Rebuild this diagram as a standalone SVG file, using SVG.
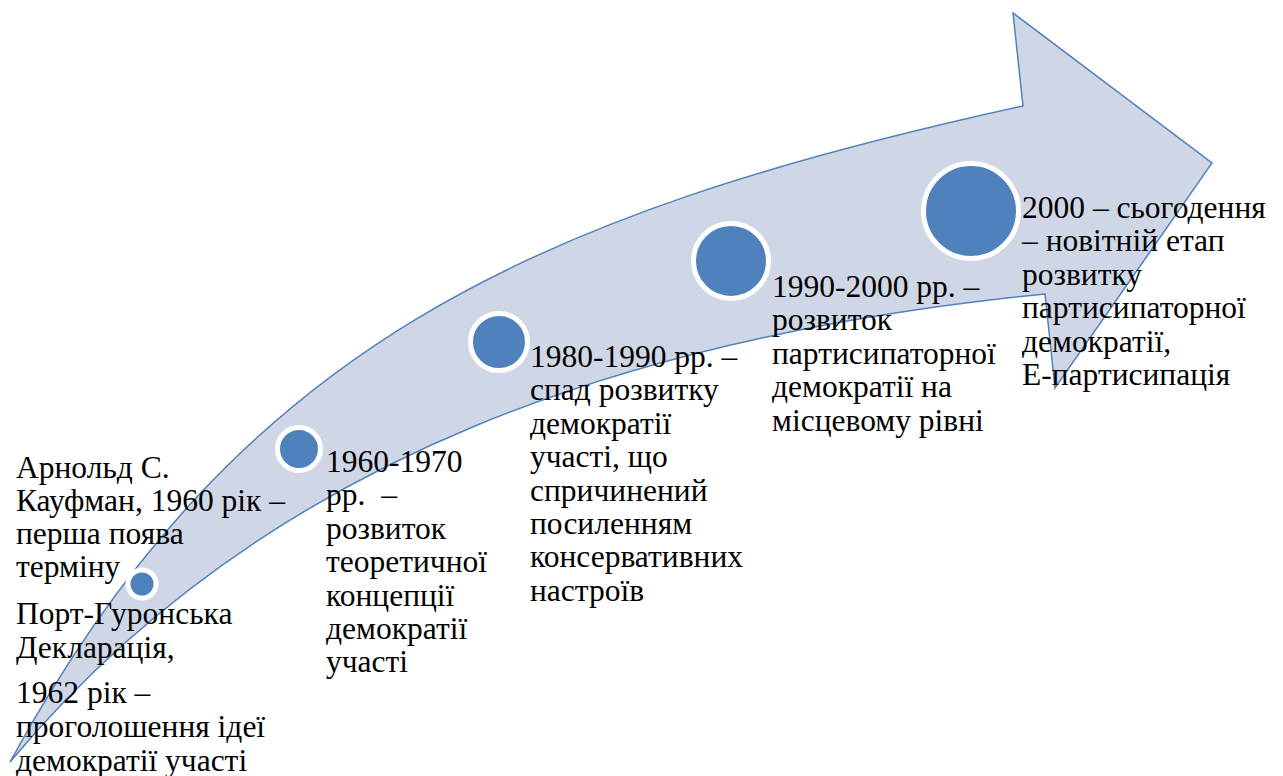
<svg xmlns="http://www.w3.org/2000/svg" width="1283" height="776" viewBox="0 0 1283 776">
<style>
  .arrow { fill: #CFD7E7; stroke: #4F81BD; stroke-width: 1.5; stroke-linejoin: miter; }
  .dot { fill: #4F81BD; stroke: #FFFFFF; stroke-width: 5; }
  text { font-family: "Liberation Serif", "Times New Roman", serif; font-size: 31.5px; fill: #000000; }
</style>
<g id="connectors">
  <path id="timeline-arrow" class="arrow" d="M10,762 C236.6,346.2 531,214 1023,106 L1013,13 L1212,163 L1055,388 L1045,294 C645,334 270,450 10,762 Z"/>
</g>
<g id="node1">
  <circle class="dot" cx="142" cy="584" r="14" stroke-width="4"/>
  <text x="16">
    <tspan x="16" y="478">Арнольд С.</tspan>
    <tspan x="16" y="511">Кауфман, 1960 рік –</tspan>
    <tspan x="16" y="544">перша поява</tspan>
    <tspan x="16" y="577">терміну</tspan>
    <tspan x="16" y="624">Порт-Гуронська</tspan>
    <tspan x="16" y="658">Декларація,</tspan>
    <tspan x="16" y="703">1962 рік –</tspan>
    <tspan x="16" y="737">проголошення ідеї</tspan>
    <tspan x="16" y="771">демократії участі</tspan>
  </text>
</g>
<g id="node2">
  <circle class="dot" cx="299" cy="449" r="21.5"/>
  <text xml:space="preserve">
    <tspan x="326" y="472">1960-1970</tspan>
    <tspan x="326" y="505.4">рр.  –</tspan>
    <tspan x="326" y="538.8">розвиток</tspan>
    <tspan x="326" y="572.2">теоретичної</tspan>
    <tspan x="326" y="605.6">концепції</tspan>
    <tspan x="326" y="639">демократії</tspan>
    <tspan x="326" y="672.4">участі</tspan>
  </text>
</g>
<g id="node3">
  <circle class="dot" cx="499" cy="342" r="28.5"/>
  <text>
    <tspan x="530" y="367">1980-1990 рр. –</tspan>
    <tspan x="530" y="400.4">спад розвитку</tspan>
    <tspan x="530" y="433.8">демократії</tspan>
    <tspan x="530" y="467.2">участі, що</tspan>
    <tspan x="530" y="500.6">спричинений</tspan>
    <tspan x="530" y="534">посиленням</tspan>
    <tspan x="530" y="567.4">консервативних</tspan>
    <tspan x="530" y="600.8">настроїв</tspan>
  </text>
</g>
<g id="node4">
  <circle class="dot" cx="731" cy="261" r="37.5"/>
  <text>
    <tspan x="772" y="297">1990-2000 рр. –</tspan>
    <tspan x="772" y="330.4">розвиток</tspan>
    <tspan x="772" y="363.8">партисипаторної</tspan>
    <tspan x="772" y="397.2">демократії на</tspan>
    <tspan x="772" y="430.6">місцевому рівні</tspan>
  </text>
</g>
<g id="node5">
  <circle class="dot" cx="971" cy="211" r="47.5"/>
  <text>
    <tspan x="1022" y="218">2000 – сьогодення</tspan>
    <tspan x="1022" y="251.4">– новітній етап</tspan>
    <tspan x="1022" y="284.8">розвитку</tspan>
    <tspan x="1022" y="318.2">партисипаторної</tspan>
    <tspan x="1022" y="351.6">демократії,</tspan>
    <tspan x="1022" y="385">Е-партисипація</tspan>
  </text>
</g>
</svg>
